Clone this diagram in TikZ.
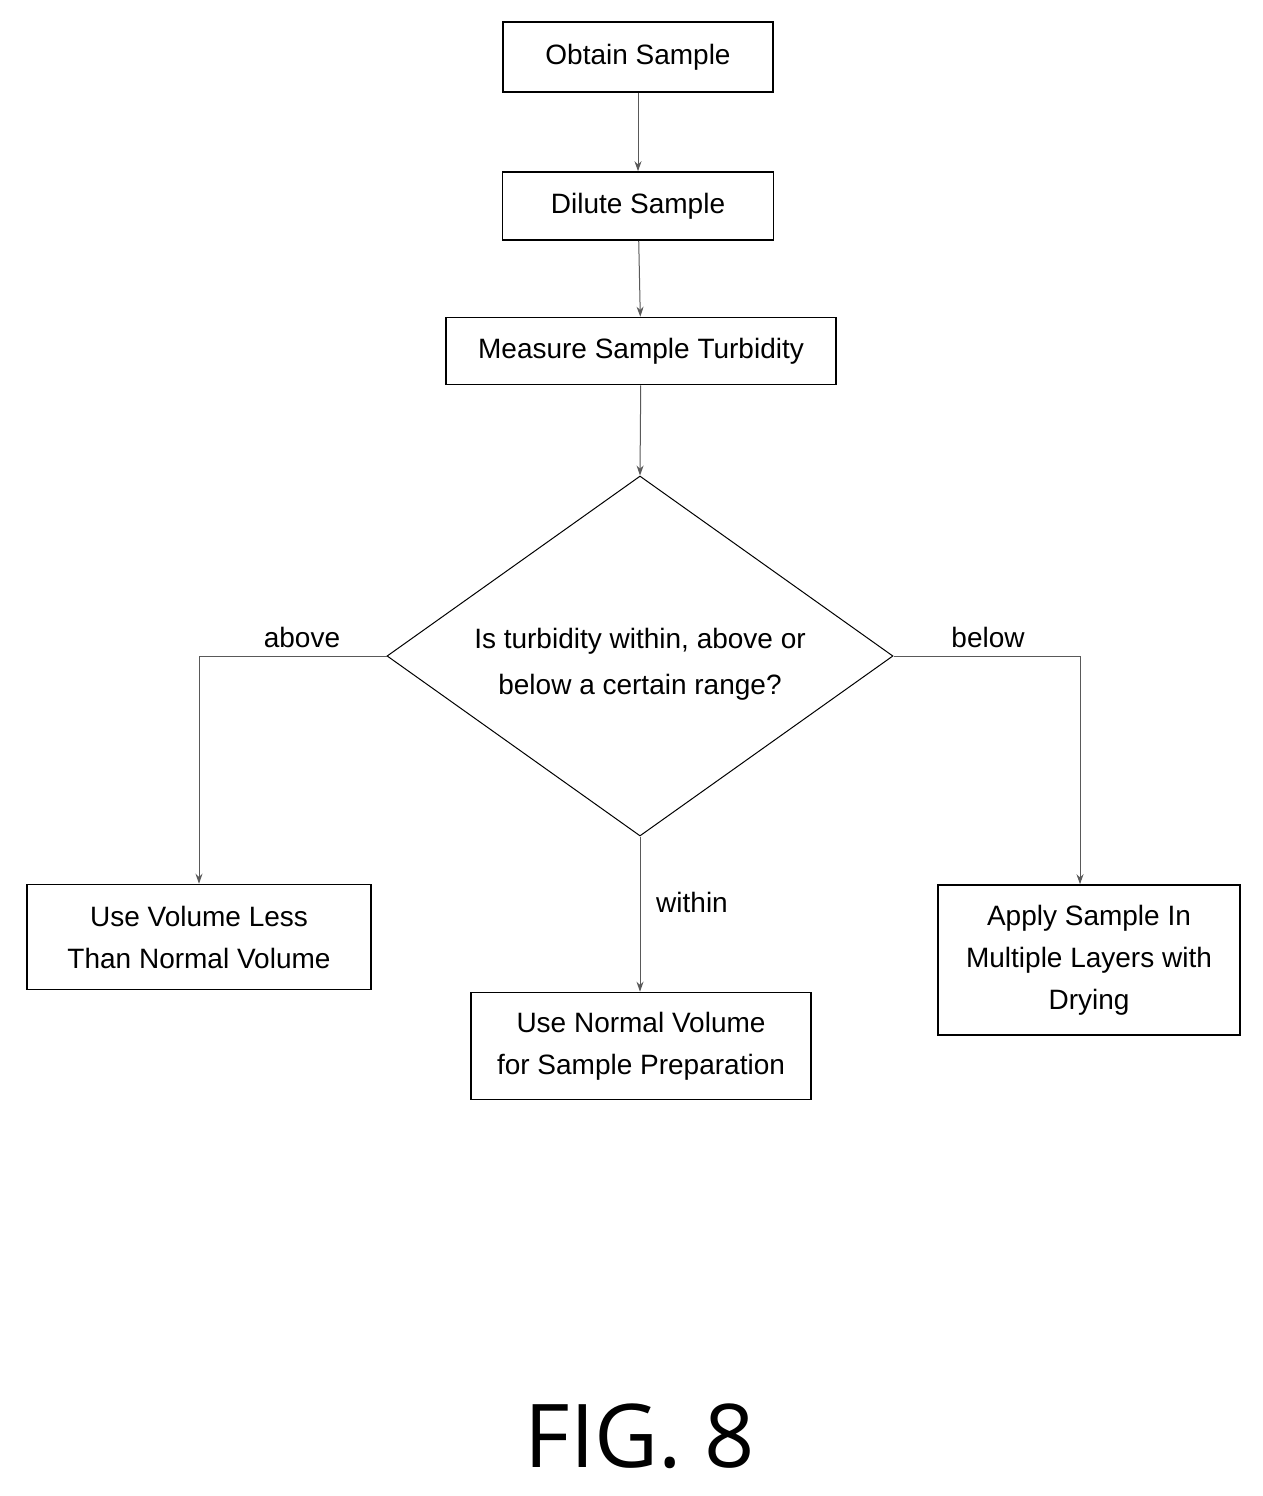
\documentclass[tikz,border=0pt]{standalone}
\usepackage{fontspec}
\setmainfont{Liberation Sans}
\newfontfamily\figfont{Open Sans}
\usetikzlibrary{shapes.geometric, arrows.meta, positioning}
\tikzset{
    rectanglenode/.style = {draw, rectangle, line width=1.6pt, inner sep=0pt, align=center,
      font=\fontsize{28}{42}\selectfont},
    diamondnode/.style = {draw, diamond, line width=1pt, aspect=1.4, inner sep=0pt,
      minimum width=506pt, minimum height=360pt},
    textnode/.style = {draw=none, inner sep=0pt, font=\fontsize{28}{34}\selectfont},
    connect/.style = {line width=1pt, gray!70!black, -{Stealth[length=10pt, width=7pt]}}
}
\begin{document}
\begin{tikzpicture}[x=1pt, y=-1pt]
\useasboundingbox (0,0) rectangle (1262,1496);

\node[rectanglenode, name=obtain, minimum width=270pt, minimum height=70pt] at (638,57) {Obtain Sample};
\node[rectanglenode, name=dilute, minimum width=271pt, minimum height=68pt] at (638,206) {Dilute Sample};
\node[rectanglenode, name=measure, minimum width=390pt, minimum height=67pt] at (641,351) {Measure Sample Turbidity};

\node[diamondnode, name=range] at (640,656) {};
\node[textnode, align=center, font=\fontsize{28}{46}\selectfont] at (640,664) {Is turbidity within, above or\\below a certain range?};

\node[rectanglenode, name=less, minimum width=344pt, minimum height=105pt] at (199,937) {Use Volume Less\\Than Normal Volume};
\node[rectanglenode, name=normal, minimum width=340pt, minimum height=107pt] at (641,1046) {Use Normal Volume\\for Sample Preparation};
\node[rectanglenode, name=layers, minimum width=302pt, minimum height=150pt] at (1089,960) {Apply Sample In\\Multiple Layers with\\Drying};

\coordinate (abovecorner) at (199,656);
\coordinate (belowcorner) at (1080,656);

\draw[connect] (obtain) -- (dilute);
\draw[connect] (dilute) -- (measure);
\draw[connect] (measure) -- (range.north);
\draw[connect] (range.west) -- (abovecorner) -- (less.north -| abovecorner);
\draw[connect] (range.east) -- (belowcorner) -- (layers.north -| belowcorner);
\draw[connect] (range.south) -- (normal.north -| range.south);

\node[textnode] at (302,637) {above};
\node[textnode] at (988,637) {below};
\node[textnode] at (692,902) {within};

\node[textnode, font=\figfont\fontsize{88}{100}\selectfont] at (640,1436) {FIG. 8};
\end{tikzpicture}
\end{document}
